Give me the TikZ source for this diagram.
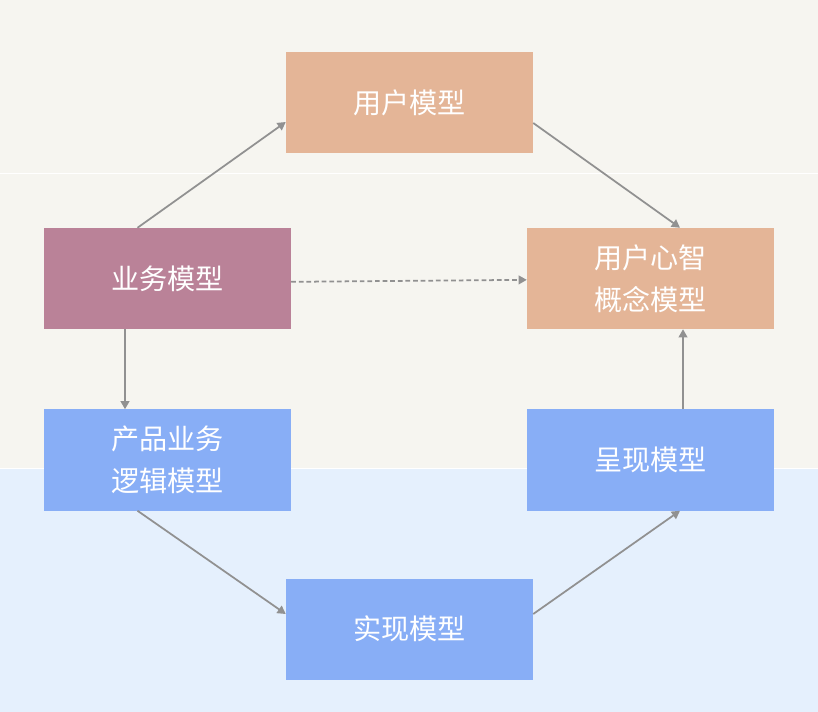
\documentclass[tikz,border=0pt]{standalone}
\usepackage{fontspec}
\setmainfont{Noto Sans CJK SC}
\usetikzlibrary{arrows.meta}
\definecolor{bandbeige}{HTML}{F6F5F0}
\definecolor{bandblue}{HTML}{E5F0FD}
\definecolor{peach}{HTML}{E4B597}
\definecolor{mauve}{HTML}{BA8298}
\definecolor{skyblue}{HTML}{88AEF6}
\definecolor{arrowgray}{HTML}{919191}
\begin{document}
\begin{tikzpicture}[x=0.03cm,y=-0.03cm,
  box/.style={minimum width=7.41cm,minimum height=3.03cm,inner sep=0pt,text=white,align=center,font=\fontsize{24}{36}\selectfont},
  userbox/.style={box,fill=peach},
  bizbox/.style={box,fill=mauve},
  techbox/.style={box,fill=skyblue},
  link/.style={draw=arrowgray,line width=1.5pt,-{Triangle[length=7pt,width=7.5pt]}}]
  % background bands
  \useasboundingbox (0,0) rectangle (818,712);
  \fill[bandbeige] (0,0) rectangle (818,468);
  \fill[bandblue] (0,468) rectangle (818,712);
  \draw[white,line width=1.7pt] (0,173.5) -- (818,173.5);
  \draw[white,line width=1.7pt] (0,468.5) -- (818,468.5);
  % models
  \node[userbox] (user) at (409.5,103){用户模型};
  \node[bizbox] (biz) at (167.5,278.5){业务模型};
  \node[userbox] (mind) at (650.5,278.5){用户心智\\概念模型};
  \node[techbox] (prod) at (167.5,460){产品业务\\逻辑模型};
  \node[techbox] (pres) at (650.5,460){呈现模型};
  \node[techbox] (impl) at (409.5,629){实现模型};
  % connectors
  \draw[link] ([xshift=-0.9cm]biz.north) -- ([yshift=-0.57cm]user.west);
  \draw[link] ([yshift=-0.6cm]user.east) -- ([xshift=0.885cm]mind.north);
  \draw[link,dash pattern=on 4pt off 2.5pt] ([yshift=-0.1cm]biz.east) -- ([yshift=-0.04cm]mind.west);
  \draw[link] ([xshift=-1.275cm]biz.south) -- ([xshift=-1.275cm]prod.north);
  \draw[link] ([xshift=0.975cm]pres.north) -- ([xshift=0.975cm]mind.south);
  \draw[link] ([xshift=-0.9cm]prod.south) -- ([yshift=0.45cm]impl.west);
  \draw[link] ([yshift=0.45cm]impl.east) -- ([xshift=0.885cm]pres.south);
\end{tikzpicture}
\end{document}
